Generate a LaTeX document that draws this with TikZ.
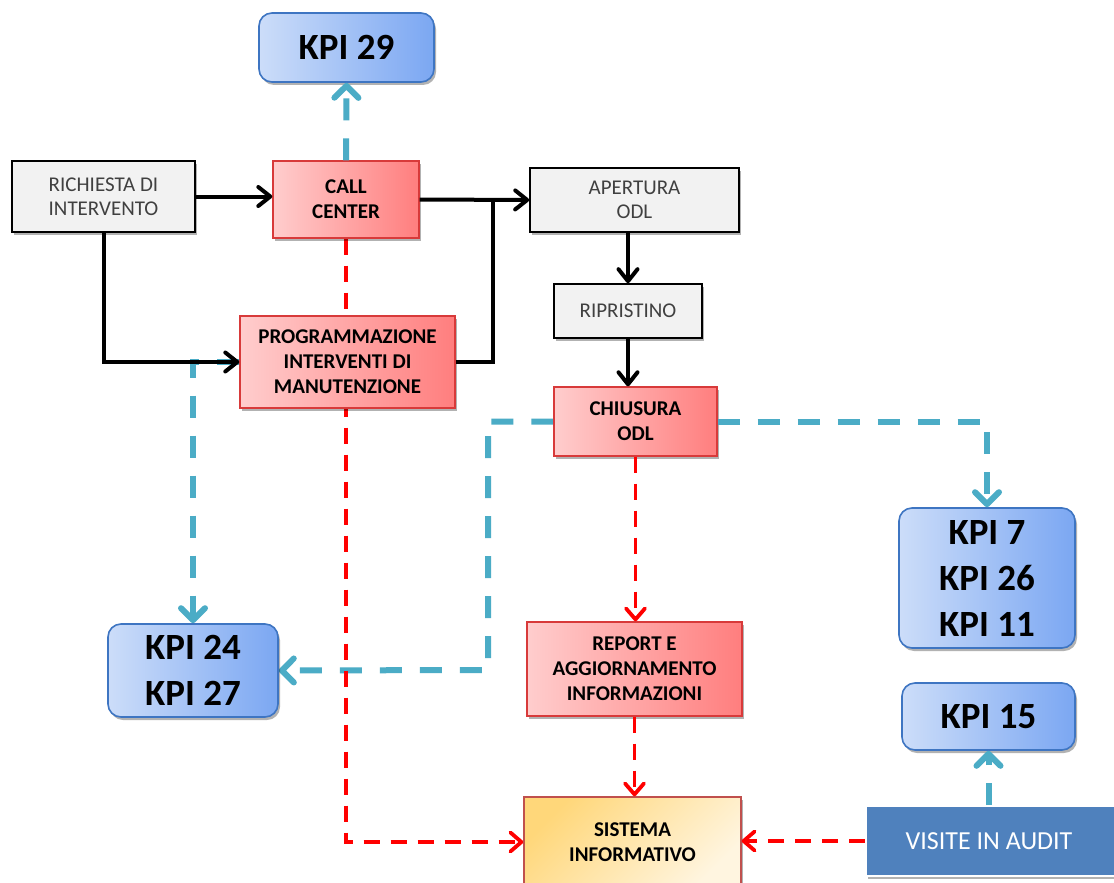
\documentclass[tikz,border=0pt]{standalone}
\usepackage{fontspec}
\setmainfont{Carlito}
\usetikzlibrary{arrows.meta,shadows,backgrounds,calc}

\definecolor{flowcyan}{HTML}{4BACC6}
\definecolor{kpiLight}{HTML}{CCDDF9}
\definecolor{kpiDark}{HTML}{7BA7F2}
\definecolor{kpiEdge}{HTML}{3E75C2}
\definecolor{redLight}{HTML}{FFCDCD}
\definecolor{redDark}{HTML}{FF7E7E}
\definecolor{redEdge}{HTML}{D83A3A}
\definecolor{grayFill}{HTML}{F2F2F2}
\definecolor{grayText}{HTML}{404040}
\definecolor{sysA}{HTML}{FFD77A}
\definecolor{sysB}{HTML}{FFF5E0}
\definecolor{sysEdge}{HTML}{C0504D}
\definecolor{auditBlue}{HTML}{4F81BD}

\tikzset{
  box/.style={rectangle, align=center, inner sep=0pt,
    drop shadow={shadow xshift=2pt, shadow yshift=-3pt, opacity=0.3, fill=black}},
  graybox/.style={box, draw=black, line width=1.6pt, fill=grayFill,
    text=grayText, font=\fontsize{21}{24}\selectfont},
  redbox/.style={box, draw=redEdge, line width=1.4pt,
    left color=redLight, right color=redDark,
    font=\bfseries\fontsize{21}{25}\selectfont},
  kpibox/.style={box, rounded corners=13pt, draw=kpiEdge, line width=1.6pt,
    left color=kpiLight, right color=kpiDark,
    font=\bfseries\fontsize{37}{46}\selectfont},
  sysbox/.style={box, draw=sysEdge, line width=1.4pt,
    top color=sysA, bottom color=sysB, shading angle=45,
    font=\bfseries\fontsize{21}{25}\selectfont},
  auditbox/.style={box, draw=white, line width=2pt, fill=auditBlue,
    text=white, font=\fontsize{26}{30}\selectfont},
  flow/.style={draw=black, line width=4pt, line join=miter,
    -{Straight Barb[length=12pt, width=19pt, line cap=round, line join=round]}},
  plain/.style={draw=black, line width=4pt, line join=miter},
  kpiflow/.style={draw=flowcyan, line width=6pt, dash pattern=on 22pt off 18pt,
    -{Straight Barb[length=12pt, width=24pt, line cap=round, line join=round]}},
  dataflow/.style={draw=red, line width=3.8pt, dash pattern=on 16pt off 11pt,
    -{Straight Barb[length=11pt, width=19pt, line cap=round, line join=round]}},
}

\begin{document}
\begin{tikzpicture}[x=1pt, y=-1pt]
  \useasboundingbox (0,0) rectangle (1114,883);
  \clip (0,0) rectangle (1114,883);

  % process boxes
  \node[kpibox, minimum width=175pt, minimum height=69pt] (kpi29) at (346.5,47.5) {KPI 29};
  \node[graybox, minimum width=183pt, minimum height=71pt] (rich) at (103.5,196.5) {RICHIESTA DI\\INTERVENTO};
  \node[redbox, minimum width=146pt, minimum height=77pt] (call) at (346,199.5) {CALL\\CENTER};
  \node[graybox, minimum width=209pt, minimum height=64pt] (aper) at (634.5,200) {APERTURA\\ODL};
  \node[graybox, minimum width=148pt, minimum height=54pt] (ripr) at (628,311) {RIPRISTINO};
  \node[redbox, minimum width=215pt, minimum height=92pt] (prog) at (347.5,362) {PROGRAMMAZIONE\\INTERVENTI DI\\MANUTENZIONE};
  \node[redbox, minimum width=163pt, minimum height=69pt] (chiu) at (635.5,421.5) {CHIUSURA\\ODL};
  \node[kpibox, minimum width=176pt, minimum height=140pt] (kpi7) at (987,578) {KPI 7\\KPI 26\\KPI 11};
  \node[kpibox, minimum width=170pt, minimum height=93pt] (kpi24) at (193,670.5) {KPI 24\\KPI 27};
  \node[redbox, minimum width=215pt, minimum height=94pt] (report) at (634.5,669) {REPORT E\\AGGIORNAMENTO\\INFORMAZIONI};
  \node[kpibox, minimum width=173pt, minimum height=67pt] (kpi15) at (988.5,716.5) {KPI 15};
  \node[sysbox, minimum width=217pt, minimum height=90pt] (sist) at (632.5,842) {SISTEMA\\INFORMATIVO};
  \node[auditbox, minimum width=254pt, minimum height=70pt] (audit) at (993,841) {\hspace*{-8pt}VISITE IN AUDIT};

  \coordinate (jn) at (493,200);
  \coordinate (cyL) at (488,670);

  % dashed links that run behind the boxes
  \begin{pgfonlayer}{background}
    \fill[white] (0,0) rectangle (1114,883);
    \draw[kpiflow] (chiu.west) -| (cyL) -- (kpi24.east);
    \draw[kpiflow] (prog.west) -| (kpi24.north);
    \draw[dataflow] (call.south) |- (sist.west);
  \end{pgfonlayer}

  % KPI links
  \draw[kpiflow] (call.north) -- (kpi29.south);
  \draw[kpiflow] (chiu.east) -| (kpi7.north);
  \draw[kpiflow] (kpi15.south |- audit.north) -- (kpi15.south);

  % information flows
  \draw[dataflow] (chiu.south) -- (chiu.south |- report.north);
  \draw[dataflow] (report.south) -- (report.south |- sist.north);
  \draw[dataflow] (audit.west) -- (audit.west -| sist.east);

  % process flow
  \draw[flow] (rich.east) -- (rich.east -| call.west);
  \draw[flow] (rich.south) |- (prog.west);
  \draw[flow] (call.east) -- (aper.west);
  \draw[plain] (prog.east) -| (jn);
  \draw[flow] (ripr.north |- aper.south) -- (ripr.north);
  \draw[flow] (ripr.south) -- (ripr.south |- chiu.north);
\end{tikzpicture}
\end{document}
